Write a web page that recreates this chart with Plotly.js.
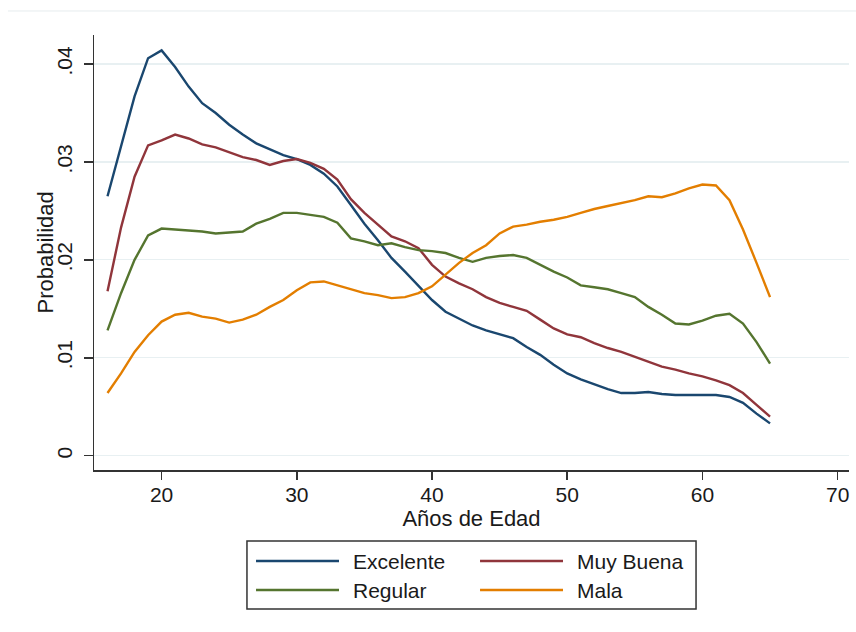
<!DOCTYPE html>
<html>
<head>
<meta charset="utf-8">
<script src="https://cdn.plot.ly/plotly-3.0.1.min.js"></script>
<style>html,body{margin:0;padding:0;background:#fff;}#chart{width:856px;height:632px;}</style>
</head>
<body>
<div id="chart"></div>
<script>
// Age (years)
const ages = [16,17,18,19,20,21,22,23,24,25,26,27,28,29,30,31,32,33,34,35,36,37,38,39,40,
              41,42,43,44,45,46,47,48,49,50,51,52,53,54,55,56,57,58,59,60,61,62,63,64,65];

const excelente = [0.0265,0.0316,0.0367,0.0406,0.0414,0.0397,0.0377,0.0360,0.0350,0.0338,
                   0.0328,0.0319,0.0313,0.0307,0.0303,0.0297,0.0288,0.0275,0.0256,0.0237,
                   0.0220,0.0202,0.0188,0.0174,0.0159,0.0147,0.0140,0.0133,0.0128,0.0124,
                   0.0120,0.0111,0.0103,0.0093,0.0084,0.0078,0.0073,0.0068,0.0064,0.0064,
                   0.0065,0.0063,0.0062,0.0062,0.0062,0.0062,0.0060,0.0054,0.0043,0.0033];

const muyBuena = [0.0168,0.0233,0.0285,0.0317,0.0322,0.0328,0.0324,0.0318,0.0315,0.0310,
                  0.0305,0.0302,0.0297,0.0301,0.0303,0.0299,0.0293,0.0282,0.0262,0.0248,
                  0.0236,0.0224,0.0219,0.0212,0.0195,0.0183,0.0176,0.0170,0.0162,0.0156,
                  0.0152,0.0148,0.0139,0.0130,0.0124,0.0121,0.0115,0.0110,0.0106,0.0101,
                  0.0096,0.0091,0.0088,0.0084,0.0081,0.0077,0.0072,0.0064,0.0052,0.0040];

const regular = [0.0128,0.0166,0.0200,0.0225,0.0232,0.0231,0.0230,0.0229,0.0227,0.0228,
                 0.0229,0.0237,0.0242,0.0248,0.0248,0.0246,0.0244,0.0238,0.0222,0.0219,
                 0.0215,0.0217,0.0213,0.0210,0.0209,0.0207,0.0202,0.0198,0.0202,0.0204,
                 0.0205,0.0202,0.0195,0.0188,0.0182,0.0174,0.0172,0.0170,0.0166,0.0162,
                 0.0152,0.0144,0.0135,0.0134,0.0138,0.0143,0.0145,0.0135,0.0116,0.0094];

const mala = [0.0064,0.0084,0.0106,0.0123,0.0137,0.0144,0.0146,0.0142,0.0140,0.0136,
              0.0139,0.0144,0.0152,0.0159,0.0169,0.0177,0.0178,0.0174,0.0170,0.0166,
              0.0164,0.0161,0.0162,0.0166,0.0173,0.0185,0.0197,0.0207,0.0215,0.0227,
              0.0234,0.0236,0.0239,0.0241,0.0244,0.0248,0.0252,0.0255,0.0258,0.0261,
              0.0265,0.0264,0.0268,0.0273,0.0277,0.0276,0.0261,0.0231,0.0197,0.0162];

const seriesNames = ['Excelente','Muy Buena','Regular','Mala'];
const seriesColors = ['#1a476f','#90353b','#55752f','#e37e00'];
const seriesValues = [excelente, muyBuena, regular, mala];

const xTickVals = [20,30,40,50,60,70];
const yTickVals = [0,0.01,0.02,0.03,0.04];
const yTickText = ['0','.01','.02','.03','.04'];

const traces = seriesValues.map((vals,i)=>({
  type:'scatter', mode:'lines', x:ages, y:vals, name:seriesNames[i],
  line:{color:seriesColors[i], width:2.4}, showlegend:false
}));

const fam = 'Liberation Sans, Arial, sans-serif';
const tickFont = {family:fam, size:21, color:'#1a1a1a'};
const titleFont = {family:fam, size:22, color:'#1a1a1a'};
const legFont = {family:fam, size:21, color:'#1a1a1a'};

// Legend layout (paper coordinates)
const legBox = {x0:0.2026, x1:0.7974, y0:-0.3195, y1:-0.1632};
const legRowY = [-0.2092, -0.2759];
const legColLine = [[0.2146,0.3245],[0.5113,0.6212]];
const legColText = [0.3404, 0.6371];

const shapes = [
  {type:'line', xref:'paper', yref:'paper', x0:-0.114, x1:1.01, y0:1.0552, y1:1.0552,
   line:{color:'#e6ecee', width:1}},
  {type:'rect', xref:'paper', yref:'paper', x0:legBox.x0, x1:legBox.x1, y0:legBox.y0, y1:legBox.y1,
   line:{color:'#333', width:1.5}, fillcolor:'rgba(0,0,0,0)'}
];
const annotations = [
  {xref:'paper', yref:'paper', x:-0.0649, y:0.5, text:'Probabilidad', textangle:-90,
   showarrow:false, xanchor:'center', yanchor:'middle', font:titleFont}
];
seriesNames.forEach((nm,i)=>{
  const c = i%2, r = Math.floor(i/2);
  shapes.push({type:'line', xref:'paper', yref:'paper', x0:legColLine[c][0], x1:legColLine[c][1],
    y0:legRowY[r], y1:legRowY[r], line:{color:seriesColors[i], width:2.4}});
  annotations.push({xref:'paper', yref:'paper', x:legColText[c], y:legRowY[r], text:nm,
    showarrow:false, xanchor:'left', yanchor:'middle', font:legFont});
});

const layout = {
  width:856, height:632,
  margin:{l:94, r:7, t:35, b:162},
  paper_bgcolor:'#ffffff', plot_bgcolor:'#ffffff',
  font:tickFont,
  showlegend:false,
  xaxis:{
    range:[15.0,70.84], tickvals:xTickVals, ticktext:xTickVals.map(String),
    showline:true, linecolor:'#333', linewidth:1.5,
    ticks:'outside', ticklen:8, tickwidth:1.5, tickcolor:'#333',
    showgrid:false, zeroline:false, tickfont:tickFont, ticklabelstandoff:-3,
    title:{text:'Años de Edad', font:titleFont, standoff:0}
  },
  yaxis:{
    range:[-0.00146,0.04297], tickvals:yTickVals, ticktext:yTickText,
    tickangle:-90,
    showline:true, linecolor:'#333', linewidth:1.5,
    ticks:'outside', ticklen:9, tickwidth:1.5, tickcolor:'#333',
    showgrid:true, gridcolor:'#e8f0f2', gridwidth:1.2,
    zeroline:false, tickfont:tickFont, ticklabelstandoff:3
  },
  shapes:shapes,
  annotations:annotations
};

Plotly.newPlot('chart', traces, layout, {displayModeBar:false, staticPlot:true});
</script>
</body>
</html>
